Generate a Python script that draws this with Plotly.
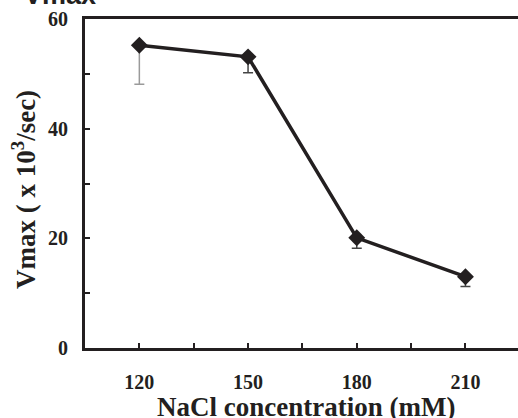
import plotly.graph_objects as go

nacl = [120, 150, 180, 210]
vmax = [55.2, 53.1, 20.1, 13.0]
err_minus = [7.1, 2.9, 1.9, 1.8]
x_ticks = [120, 150, 180, 210]
x_minor = [135, 165, 195]
y_ticks = [0, 20, 40, 60]
y_minor = [10, 30, 50]

INK = "#231f20"
serif = "Liberation Serif"

fig = go.Figure()
# error bars: first point drawn in light grey, the others dark (as in the reference)
fig.add_trace(go.Scatter(
    x=nacl[:1], y=vmax[:1], mode="markers", marker=dict(size=1, opacity=0),
    error_y=dict(type="data", symmetric=False, array=[0], arrayminus=err_minus[:1],
                 color="#9a9a9a", thickness=1.5, width=5),
    showlegend=False, hoverinfo="skip",
))
fig.add_trace(go.Scatter(
    x=nacl[1:], y=vmax[1:], mode="markers", marker=dict(size=1, opacity=0),
    error_y=dict(type="data", symmetric=False, array=[0]*(len(nacl)-1), arrayminus=err_minus[1:],
                 color="#444444", thickness=1.5, width=5),
    showlegend=False, hoverinfo="skip",
))
fig.add_trace(go.Scatter(
    x=nacl, y=vmax, mode="lines+markers",
    line=dict(color=INK, width=3.5),
    marker=dict(symbol="diamond", size=13, color=INK),
    showlegend=False,
))

fig.update_layout(
    width=518, height=418,
    margin=dict(l=85, r=0, t=19, b=70),
    plot_bgcolor="white", paper_bgcolor="white",
    font=dict(family=serif, color=INK),
    annotations=[
        dict(text="<b>Vmax</b>", xref="paper", yref="paper", x=-0.145, y=1.021,
             xanchor="left", yanchor="bottom", showarrow=False,
             font=dict(family="Liberation Sans", size=27, color=INK)),
        dict(text="<b>NaCl concentration (mM)</b>", xref="paper", yref="paper", x=0.510, y=-0.179,
             xanchor="center", yanchor="middle", showarrow=False,
             font=dict(family=serif, size=27, color=INK)),
        dict(text="<b>Vmax ( x 10<sup>3</sup>/sec)</b>", xref="paper", yref="paper", x=-0.141, y=0.483,
             xanchor="center", yanchor="middle", textangle=-90, showarrow=False,
             font=dict(family=serif, size=27, color=INK)),
    ],
)
fig.update_xaxes(
    range=[105, 224.5], tickvals=x_ticks, ticktext=[f"<b>{v}</b>" for v in x_ticks],
    showline=True, linewidth=3, linecolor=INK, mirror=True,
    ticks="inside", ticklen=5, tickwidth=2, tickcolor=INK,
    minor=dict(tickvals=x_minor, ticks="inside", ticklen=5, tickwidth=2, tickcolor=INK),
    showgrid=False, zeroline=False, automargin=False,
    tickfont=dict(family=serif, size=20, color=INK), ticklabelstandoff=14,
)
fig.update_yaxes(
    range=[0, 60], tickvals=y_ticks, ticktext=[f"<b>{v}</b>" for v in y_ticks],
    showline=True, linewidth=3, linecolor=INK,
    ticks="inside", ticklen=5, tickwidth=2, tickcolor=INK,
    minor=dict(tickvals=y_minor, ticks="inside", ticklen=5, tickwidth=2, tickcolor=INK),
    showgrid=False, zeroline=False, automargin=False,
    tickfont=dict(family=serif, size=20, color=INK), ticklabelstandoff=10,
)

fig.write_html("out.html", config={"displayModeBar": False},
               post_script="document.body.style.margin='0';document.body.style.overflow='hidden';")
